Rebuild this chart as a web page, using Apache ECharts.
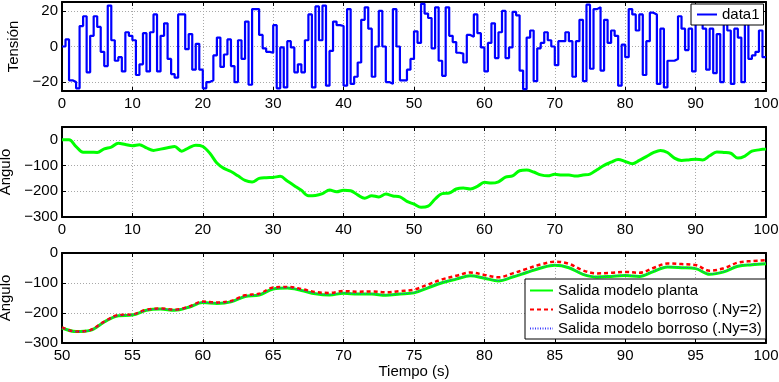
<!DOCTYPE html>
<html>
<head>
<meta charset="utf-8">
<script src="https://cdn.jsdelivr.net/npm/echarts@6/dist/echarts.min.js"></script>
<style>
  html, body { margin: 0; padding: 0; background: #ffffff; }
  #chart { width: 779px; height: 382px; }
</style>
</head>
<body>
<div id="chart"></div>
<script>
// Input voltage: one level per 0.5 s slot, 0..100 s
const tensionLevels = [
  0, 4, -19, -20, -23.5, 11.5, 17, -14.5, 6, 17,
  11, -3, -11, 23, 3.5, -8, -6, -14, 8, 6,
  3.5, -16, -10, 7.5, -14, 8, 18, -14, 6, 13,
  -7, -15.5, -17.5, 18, 18, -1.5, 7, -13, 1.5, -13,
  -23.5, -20, -19, -5, 5, -11.5, -4.5, 4, -11, -20,
  3.5, -7, 14, -21.5, 21, 21, 6.5, -1, -3, -3.5,
  12, -23.5, -0.5, -23, 3, -0.5, -14.5, -10, -14.5, 3.5,
  18, -23, 22.5, 3.5, 23, -22, -2.5, 14, 12, 11.5,
  -22, 21, -21, -17, -9, 15, 22, 10, -17, 0,
  20, 0, -20, -21, 21, 0, -19, -19, -13, -7,
  8.5, 2, 24, 18.5, 16, -1, 22, -8, -16.5, 22,
  6, 2.5, -3.5, -4, -9, 6.5, 5.5, 18, 7.5, -0.5,
  -14, 2, 13, -6.5, 8, 20, -6.5, -0.5, 19.5, 17.5,
  -13.5, -24, 5, 9, -19.5, -1, 2, 8, 3.5, 0,
  -10.5, 3, 3, 8, 3, -17, 3, 15, -19.5, 23.5,
  -12.5, 21, 22, -13.5, 15, 2, 9, 6, -22, 1,
  -6, 21, 18, 9, 18, -16, 3, 19, 18, -21,
  10, -23, -8, -8, -7, 17, 10, -2, 10, -14,
  20, 20, 10, -13, 10, -15, 7, -20, 22, 9,
  -21, 10, 5, -20, 20, -7, -5, -3, 9, -6
];
const tensionSlot = 0.5;

// Plant output angle, sampled every second from 0 to 100 s
const anguloPlanta = [
  0, 0, -26, -48, -48, -49, -35, -28, -13, -18,
  -23, -19, -31, -41, -36, -31, -26, -44, -31, -21,
  -26, -52, -90, -111, -123, -140, -158, -164, -150, -147,
  -146, -142, -160, -178, -196, -217, -216, -209, -195, -202,
  -196, -198, -214, -227, -217, -222, -211, -218, -222, -239,
  -250, -262, -258, -230, -209, -207, -191, -187, -191, -181,
  -165, -168, -163, -145, -140, -120, -117, -125, -136, -140,
  -134, -137, -137, -141, -137, -133, -116, -99, -87, -76,
  -84, -93, -80, -65, -50, -41, -49, -71, -80, -78,
  -75, -78, -62, -47, -49, -52, -71, -63, -44, -39,
  -36
];

// Fuzzy model outputs, sampled every second from 50 to 100 s
const borrosoNy2 = [
  -248, -262, -257, -229, -207, -205, -189, -185, -189, -179,
  -162, -165, -160, -141, -136, -115, -113, -120, -130, -133,
  -127, -129, -128, -131, -127, -122, -105, -88, -76, -65,
  -73, -81, -68, -53, -38, -29, -36, -58, -68, -66,
  -63, -66, -50, -35, -37, -40, -59, -51, -32, -27,
  -24
];
const borrosoNy3 = [
  -250, -262, -258, -230, -209, -206, -191, -187, -190, -181,
  -165, -167, -163, -145, -139, -120, -116, -124, -135, -139,
  -133, -136, -136, -140, -136, -132, -115, -98, -86, -76,
  -83, -92, -79, -64, -49, -40, -48, -70, -79, -77,
  -74, -77, -61, -46, -48, -51, -70, -62, -43, -38,
  -35
];
const zoomStart = 50;

const tensionTicks = [-20, 0, 20];

const FONT = '"Liberation Sans", Arial, Helvetica, sans-serif';
const fmt = v => String(v).replace('-', '\u2212');

// piecewise-constant voltage trace
const tensionData = tensionLevels.map((v, k) => [k * tensionSlot, v]);
tensionData.push([tensionLevels.length * tensionSlot, tensionLevels[tensionLevels.length - 1]]);

const plantaData = anguloPlanta.map((v, i) => [i, v]);
const plantaZoom = anguloPlanta.slice(zoomStart).map((v, i) => [zoomStart + i, v]);
const ny2Data = borrosoNy2.map((v, i) => [zoomStart + i, v]);
const ny3Data = borrosoNy3.map((v, i) => [zoomStart + i, v]);

const gridLine = { show: true, lineStyle: { color: '#a8a8a8', width: 1, type: [1, 2] } };
const frame = { show: true, onZero: false, lineStyle: { color: '#000', width: 2 } };
const tick = { show: true, inside: true, length: 4, lineStyle: { color: '#000', width: 1 } };
const labelStyle = { color: '#000', fontSize: 15, fontFamily: FONT, formatter: fmt };

function xPair(gridIndex, min, max, interval, extra) {
  return [
    Object.assign({
      type: 'value', gridIndex, min, max, interval, position: 'bottom',
      axisLine: frame, axisTick: tick, splitLine: gridLine,
      axisLabel: Object.assign({ margin: 5 }, labelStyle)
    }, extra || {}),
    {
      type: 'value', gridIndex, min, max, interval, position: 'top',
      axisLine: frame, axisTick: tick, splitLine: { show: false },
      axisLabel: { show: false }
    }
  ];
}

function yPair(gridIndex, min, max, interval, name, nameGap, custom) {
  const left = {
    type: 'value', gridIndex, min, max, position: 'left',
    name, nameLocation: 'middle', nameGap,
    nameTextStyle: { color: '#000', fontSize: 15, fontFamily: FONT },
    axisLine: frame,
    axisTick: Object.assign({}, tick),
    splitLine: Object.assign({}, gridLine),
    axisLabel: Object.assign({ margin: 4, showMaxLabel: max === 0 }, labelStyle)
  };
  const right = {
    type: 'value', gridIndex, min, max, position: 'right',
    axisLine: frame, axisTick: Object.assign({}, tick),
    splitLine: { show: false }, axisLabel: { show: false }
  };
  if (custom) {
    left.axisTick.customValues = custom;
    left.axisLabel.customValues = custom;
    left.axisLabel.showMaxLabel = true;
    left.splitLine.customValues = custom;
    right.axisTick.customValues = custom;
  } else {
    left.interval = interval;
    right.interval = interval;
  }
  return [left, right];
}

const xAxes = [].concat(
  xPair(0, 0, 100, 10),
  xPair(1, 0, 100, 10),
  xPair(2, 50, 100, 5, {
    name: 'Tiempo (s)', nameLocation: 'middle', nameGap: 18,
    nameTextStyle: { color: '#000', fontSize: 15, fontFamily: FONT }
  })
);
const yAxes = [].concat(
  yPair(0, -25, 25, null, 'Tensión', 32, tensionTicks),
  yPair(1, -300, 50, 100, 'Ángulo', 39),
  yPair(2, -300, 0, 100, 'Ángulo', 39)
);

const legendBase = {
  orient: 'vertical', backgroundColor: '#fff', borderColor: '#000', borderWidth: 1,
  borderRadius: 0, itemHeight: 14,
  itemStyle: { color: 'rgba(0,0,0,0)', borderWidth: 0, opacity: 0 },
  textStyle: { color: '#000', fontSize: 15, fontFamily: FONT }
};

const gridBase = { left: 62, right: 13, containLabel: false, outerBoundsMode: 'none' };

const option = {
  animation: false,
  backgroundColor: '#fff',
  grid: [
    Object.assign({ top: 2, height: 89 }, gridBase),
    Object.assign({ top: 127, height: 90 }, gridBase),
    Object.assign({ top: 253, height: 90 }, gridBase)
  ],
  xAxis: xAxes,
  yAxis: yAxes,
  legend: [
    Object.assign({}, legendBase, {
      data: ['data1'], left: 691, top: 4, itemWidth: 20, padding: [3, 4, 3, 5], itemGap: 0
    }),
    Object.assign({}, legendBase, {
      data: ['Salida modelo planta', 'Salida modelo borroso (.Ny=2)', 'Salida modelo borroso (.Ny=3)'],
      left: 525, top: 279, itemWidth: 23, itemGap: 4, padding: [4, 4, 3, 4]
    })
  ],
  series: [
    {
      name: 'data1', type: 'line', xAxisIndex: 0, yAxisIndex: 0, step: 'end',
      data: tensionData, symbol: 'none',
      lineStyle: { color: '#0000ff', width: 2.2 }, itemStyle: { color: '#0000ff' }
    },
    {
      name: 'planta-full', type: 'line', xAxisIndex: 2, yAxisIndex: 2,
      data: plantaData, symbol: 'none', smooth: 0.35,
      lineStyle: { color: '#00ff00', width: 3 }, itemStyle: { color: '#00ff00' }
    },
    {
      name: 'Salida modelo planta', type: 'line', xAxisIndex: 4, yAxisIndex: 4,
      data: plantaZoom, symbol: 'none', smooth: 0.35,
      lineStyle: { color: '#00ff00', width: 3 }, itemStyle: { color: '#00ff00' }
    },
    {
      name: 'Salida modelo borroso (.Ny=2)', type: 'line', xAxisIndex: 4, yAxisIndex: 4,
      data: ny2Data, symbol: 'none', smooth: 0.35,
      lineStyle: { color: '#ff0000', width: 2.5, type: [4, 3] }, itemStyle: { color: '#ff0000' }
    },
    {
      name: 'Salida modelo borroso (.Ny=3)', type: 'line', xAxisIndex: 4, yAxisIndex: 4,
      data: ny3Data, symbol: 'none', smooth: 0.35,
      lineStyle: { color: '#3a3aff', width: 1, type: [1, 1.5] }, itemStyle: { color: '#3a3aff' }
    }
  ]
};

const chart = echarts.init(document.getElementById('chart'), null, { renderer: 'canvas' });
chart.setOption(option);
</script>
</body>
</html>
